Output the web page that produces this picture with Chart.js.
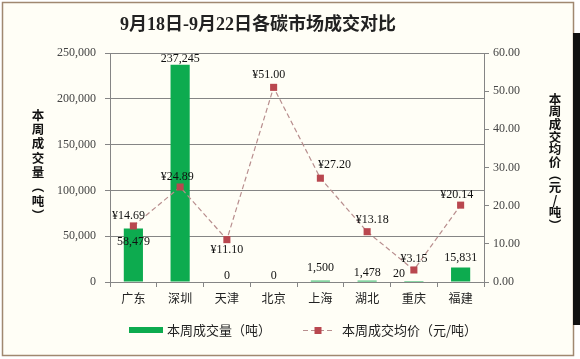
<!DOCTYPE html>
<html><head><meta charset="utf-8">
<script src="https://cdn.jsdelivr.net/npm/chart.js@4/dist/chart.umd.min.js"></script>
<style>
html,body{margin:0;padding:0;background:#fff;}
#wrap{position:relative;width:580px;height:359px;overflow:hidden;}
#strip{position:absolute;left:573px;top:33px;width:7px;height:292px;background:#111;}
canvas{display:block;}
</style></head><body>
<div id="wrap"><canvas id="c" width="580" height="359"></canvas><div id="strip"></div></div>
<script>
// ---- data ----
const chartTitle = '9月18日-9月22日各碳市场成交对比';
const categories = ['广东','深圳','天津','北京','上海','湖北','重庆','福建'];
const volumes = [58479, 237245, 0, 0, 1500, 1478, 20, 15831];
const prices = [14.69, 24.89, 11.10, 51.00, 27.20, 13.18, 3.15, 20.14];
const volumeTicks = [0, 50000, 100000, 150000, 200000, 250000];
const priceTicks = [0, 10, 20, 30, 40, 50, 60];
const volumeLabel = '本周成交量（吨）';
const priceLabel = '本周成交均价（元/吨）';
const leftAxisTitle = ['本','周','成','交','量','（','吨','）'];
const rightAxisTitle = ['本','周','成','交','均','价','（','元','/','吨','）'];

// ---- style ----
const GREEN = '#0dab4f';
const MARK = '#b9474f';
const DASH = '#b88e8e';
const GRID = '#858585';
const SERIF = '"Liberation Serif", "Times New Roman", serif';
const SANS = '"Noto Sans CJK SC", sans-serif';
const barLabelOffsets = [[0,13],[0,-6],[0,-6.5],[0,-6.5],[0,-13],[0,-7.5],[-15,-8],[0,-9.5]];
const priceLabelOffsets = [[-5,-10.5],[-3,-10.5],[0,10],[-5,-13],[14,-13],[5,-11.5],[0,-11.5],[-4,-10.7]];

function drawVertical(ctx, chars, x, y0, step) {
  chars.forEach((ch, i) => {
    const y = y0 + i * step;
    if (ch === '（' || ch === '）') {
      ctx.save();
      ctx.translate(x, y);
      ctx.rotate(Math.PI / 2);
      ctx.fillText(ch, 0, 0);
      ctx.restore();
    } else {
      ctx.fillText(ch, x, y);
    }
  });
}

const decor = {
  id: 'decor',
  beforeDraw(chart) {
    const ctx = chart.ctx;
    ctx.save();
    ctx.fillStyle = '#ffffff';
    ctx.fillRect(0, 0, chart.width, chart.height);
    ctx.fillStyle = '#fffef6';
    ctx.fillRect(2.5, 2.5, 571, 353);
    ctx.strokeStyle = '#a08870';
    ctx.lineWidth = 1.5;
    ctx.strokeRect(2.5, 2.5, 571, 353);
    ctx.restore();
  },
  afterDatasetsDraw(chart) {
    const ctx = chart.ctx;
    ctx.save();
    ctx.font = '12px ' + SERIF;
    ctx.fillStyle = '#111';
    ctx.textAlign = 'center';
    ctx.textBaseline = 'middle';
    const barMeta = chart.getDatasetMeta(0);
    barMeta.data.forEach((el, i) => {
      const o = barLabelOffsets[i];
      ctx.fillText(volumes[i].toLocaleString('en-US'), el.x + o[0], el.y + o[1]);
    });
    const lineMeta = chart.getDatasetMeta(1);
    lineMeta.data.forEach((el, i) => {
      const o = priceLabelOffsets[i];
      ctx.fillText('¥' + prices[i].toFixed(2), el.x + o[0], el.y + o[1]);
    });
    ctx.restore();
  },
  afterDraw(chart) {
    const ctx = chart.ctx;
    ctx.save();
    // title
    ctx.font = 'bold 18px ' + SERIF + ', ' + SANS;
    ctx.fillStyle = '#222';
    ctx.textAlign = 'center';
    ctx.textBaseline = 'middle';
    ctx.fillText(chartTitle, 258, 25);
    // vertical axis titles
    ctx.font = 'bold 12.5px ' + SANS;
    ctx.fillStyle = '#111';
    drawVertical(ctx, leftAxisTitle, 38, 115, 14.3);
    drawVertical(ctx, rightAxisTitle, 555, 99, 12.6);
    // legend
    ctx.textAlign = 'left';
    ctx.font = '13px ' + SANS;
    ctx.fillStyle = GREEN;
    ctx.fillRect(129, 327, 34, 6);
    ctx.fillStyle = '#222';
    ctx.fillText(chart.data.datasets[0].label, 167, 330);
    ctx.strokeStyle = DASH;
    ctx.lineWidth = 1.2;
    ctx.setLineDash([5, 3]);
    ctx.beginPath();
    ctx.moveTo(303, 330.5);
    ctx.lineTo(334, 330.5);
    ctx.stroke();
    ctx.setLineDash([]);
    ctx.fillStyle = MARK;
    ctx.fillRect(314.5, 327, 7, 7);
    ctx.fillStyle = '#222';
    ctx.fillText(chart.data.datasets[1].label, 342, 330);
    ctx.restore();
  }
};

new Chart(document.getElementById('c'), {
  data: {
    labels: categories,
    datasets: [
      {
        type: 'bar',
        label: volumeLabel,
        data: volumes,
        yAxisID: 'y',
        backgroundColor: GREEN,
        barPercentage: 0.41,
        categoryPercentage: 1,
        order: 2
      },
      {
        type: 'line',
        label: priceLabel,
        data: prices,
        yAxisID: 'y1',
        borderColor: DASH,
        borderWidth: 1.2,
        borderDash: [5, 3],
        pointStyle: 'rect',
        pointRadius: 5,
        pointBackgroundColor: MARK,
        pointBorderColor: MARK,
        pointBorderWidth: 0,
        tension: 0,
        order: 1
      }
    ]
  },
  options: {
    responsive: false,
    animation: false,
    devicePixelRatio: 1,
    layout: { padding: { top: 53, bottom: 49, left: 0, right: 0 } },
    plugins: {
      legend: { display: false },
      title: { display: false },
      tooltip: { enabled: false }
    },
    scales: {
      x: {
        offset: true,
        grid: { offset: true, drawOnChartArea: false, drawTicks: true, tickLength: 5, color: GRID },
        border: { color: GRID },
        ticks: { font: { family: SANS, size: 12 }, color: '#222', padding: 4 },
        afterFit(s) { s.height = 28; }
      },
      y: {
        position: 'left',
        min: 0, max: 250000,
        afterBuildTicks(s) { s.ticks = volumeTicks.map(v => ({ value: v })); },
        ticks: {
          font: { family: SERIF, size: 12 }, color: '#444', padding: 9,
          callback: v => v.toLocaleString('en-US')
        },
        grid: { color: GRID, tickLength: 5 },
        border: { color: GRID },
        afterFit(s) { s.width = 110; }
      },
      y1: {
        position: 'right',
        min: 0, max: 60,
        afterBuildTicks(s) { s.ticks = priceTicks.map(v => ({ value: v })); },
        ticks: {
          font: { family: SERIF, size: 12 }, color: '#444', padding: 4,
          callback: v => Number(v).toFixed(2)
        },
        grid: { drawOnChartArea: false, color: GRID, tickLength: 5 },
        border: { color: GRID },
        afterFit(s) { s.width = 96; }
      }
    }
  },
  plugins: [decor]
});
</script>
</body></html>
